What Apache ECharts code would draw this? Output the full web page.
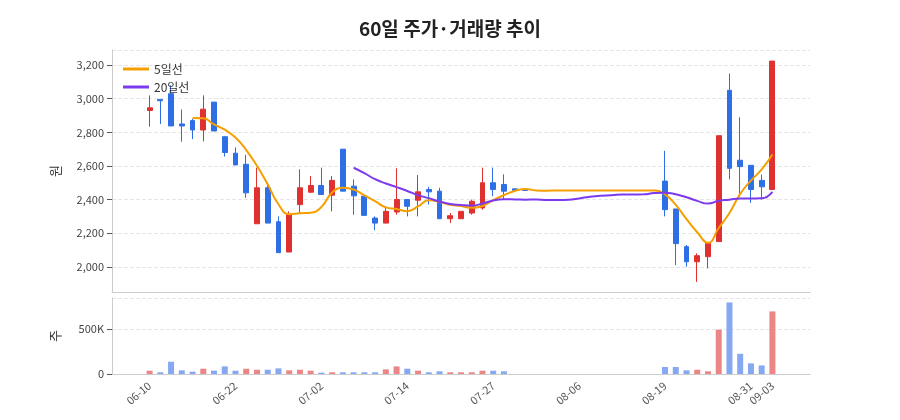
<!DOCTYPE html>
<html><head><meta charset="utf-8">
<script src="https://cdn.jsdelivr.net/npm/echarts@6/dist/echarts.min.js"></script>
<style>html,body{margin:0;padding:0;background:#fff}#c{width:900px;height:420px}</style>
</head><body><div id="c"></div>
<script>
const dates=['06-10','06-11','06-12','06-13','06-16','06-17','06-18','06-19','06-22','06-23','06-24','06-25','06-26','06-27','06-30','07-01','07-02','07-03','07-04','07-07','07-08','07-09','07-10','07-11','07-14','07-15','07-16','07-17','07-18','07-21','07-22','07-23','07-27','07-28','07-29','07-30','07-31','08-01','08-04','08-05','08-06','08-07','08-08','08-11','08-12','08-13','08-14','08-18','08-19','08-20','08-21','08-22','08-25','08-26','08-27','08-28','08-31','09-01','09-03'];
const opens=[2930,2996,3030,2850,2870,2814,2980,2774,2676,2610,2256,2470,2268,2088,2370,2444,2484,2426,2700,2480,2420,2290,2260,2326,2400,2396,2460,2450,2286,2286,2320,2350,2500,2490,2464,2458,2454,2454,2454,2454,2454,2454,2454,2454,2454,2454,2454,2454,2510,2344,2120,2030,2060,2150,3050,2634,2604,2514,2460];
const closes=[2946,2988,2838,2838,2814,2938,2808,2680,2606,2440,2470,2260,2084,2310,2470,2484,2430,2514,2450,2422,2306,2260,2330,2400,2360,2446,2446,2286,2304,2330,2390,2500,2460,2450,2454,2454,2454,2454,2454,2454,2454,2454,2454,2454,2454,2454,2454,2454,2340,2138,2030,2066,2140,2780,2586,2596,2460,2476,3224];
const lows=[2834,2850,2838,2744,2760,2746,2808,2656,2606,2410,2256,2260,2084,2088,2320,2440,2430,2330,2450,2310,2306,2218,2260,2310,2300,2300,2370,2286,2260,2286,2310,2340,2420,2400,2454,2454,2454,2454,2454,2454,2454,2454,2454,2454,2454,2454,2454,2454,2300,2010,2000,1910,1990,2150,2520,2420,2380,2400,2460];
const highs=[3020,2996,3080,2936,2880,3020,2980,2774,2710,2666,2590,2500,2300,2330,2580,2540,2590,2540,2700,2520,2420,2300,2360,2586,2400,2546,2476,2470,2320,2330,2400,2590,2590,2550,2464,2458,2454,2454,2454,2454,2454,2454,2454,2454,2454,2454,2454,2454,2690,2344,2130,2080,2140,2780,3150,2890,2604,2550,3224];
const volumes=[37000,19000,137000,41000,26000,59000,37000,85000,37000,59000,48000,48000,63000,41000,48000,37000,15000,19000,19000,19000,19000,19000,52000,85000,59000,37000,19000,30000,19000,19000,19000,37000,37000,30000,0,0,0,0,0,0,0,0,0,0,0,0,0,0,78000,78000,41000,48000,30000,496000,800000,226000,119000,96000,700000];
const volUp=[1,0,0,0,0,1,0,0,0,1,1,0,0,1,1,1,0,1,0,0,0,0,1,1,0,1,0,0,1,1,1,1,0,0,0,0,0,0,0,0,0,0,0,0,0,0,0,0,0,0,0,1,1,1,0,0,0,0,1];
const labelIdx=[0,8,16,24,32,40,48,56,58];

const PAD=3;
const n=dates.length;
function ma(k){const r=[];for(let i=0;i<n;i++){if(i<k-1){r.push('-');continue;}let s=0;for(let j=i-k+1;j<=i;j++)s+=closes[j];r.push(+(s/k).toFixed(1));}return r;}
const padArr=a=>[...Array(PAD).fill('-'),...a,...Array(PAD).fill('-')];
const cats=[...Array(PAD).fill(''),...dates,...Array(PAD).fill(' ')];
const kData=padArr(dates.map((d,i)=>[opens[i],closes[i],lows[i],highs[i]]));
const volData=padArr(volumes.map((v,i)=>({value:v,itemStyle:{color:volUp[i]?'#ec8585':'#86a8f3'}})));
const show=(i)=>labelIdx.includes(i-PAD);
const RED='#e03131',BLUE='#2f6fe6';
const chart=echarts.init(document.getElementById('c'));
const font='"Noto Sans CJK KR","Noto Sans",sans-serif';
chart.setOption({
  animation:false,
  textStyle:{fontFamily:font},
  title:{text:'60일 주가·거래량 추이',left:'center',top:14,textStyle:{fontSize:19,fontWeight:'bold',color:'#222',fontFamily:font}},
  legend:{left:118,top:58,orient:'vertical',itemGap:6,itemWidth:26,itemHeight:3,textStyle:{fontSize:12,color:'#333'},data:[{name:'5일선',icon:'rect'},{name:'20일선',icon:'rect'}]},
  grid:[{left:112,right:90,top:50,height:242},{left:112,right:90,top:298,height:76}],
  xAxis:[
    {type:'category',gridIndex:0,data:cats,boundaryGap:true,axisLine:{lineStyle:{color:'#ccc'}},axisTick:{alignWithLabel:true,interval:(i)=>show(i),lineStyle:{color:'#555'}},axisLabel:{show:false},splitLine:{show:false}},
    {type:'category',gridIndex:1,data:cats,boundaryGap:true,axisLine:{lineStyle:{color:'#ccc'}},axisTick:{alignWithLabel:true,interval:(i)=>show(i),lineStyle:{color:'#555'}},axisLabel:{interval:(i)=>show(i),rotate:40,color:'#555',fontSize:11,margin:10}}
  ],
  yAxis:[
    {type:'value',gridIndex:0,min:1850,max:3290,splitNumber:7,name:'원',nameLocation:'middle',nameGap:50,nameTextStyle:{fontSize:13,color:'#333'},axisLine:{show:true,lineStyle:{color:'#ccc'}},axisTick:{show:true,lineStyle:{color:'#555'}},axisLabel:{color:'#444',fontSize:11,showMinLabel:false,showMaxLabel:false,formatter:v=>v.toLocaleString('en-US')},splitLine:{lineStyle:{type:'dashed',color:'#e6e6e6'}}},
    {type:'value',gridIndex:1,min:0,max:850000,interval:500000,name:'주',nameLocation:'middle',nameGap:50,nameTextStyle:{fontSize:13,color:'#333'},axisLine:{show:true,lineStyle:{color:'#ccc'}},axisTick:{show:true,lineStyle:{color:'#555'}},axisLabel:{color:'#444',fontSize:11,showMaxLabel:false,formatter:v=>v===0?'0':(v/1000)+'K'},splitLine:{lineStyle:{type:'dashed',color:'#e6e6e6'}}}
  ],
  series:[
    {type:'candlestick',xAxisIndex:0,yAxisIndex:0,data:kData,barMaxWidth:7,itemStyle:{color:RED,color0:BLUE,borderColor:RED,borderColor0:BLUE,borderWidth:1}},
    {name:'5일선',type:'line',xAxisIndex:0,yAxisIndex:0,data:padArr(ma(5)),smooth:true,showSymbol:false,lineStyle:{width:2,color:'#f59f00'},itemStyle:{color:'#f59f00'}},
    {name:'20일선',type:'line',xAxisIndex:0,yAxisIndex:0,data:padArr(ma(20)),smooth:true,showSymbol:false,lineStyle:{width:2,color:'#7c3aed'},itemStyle:{color:'#7c3aed'}},
    {type:'bar',xAxisIndex:1,yAxisIndex:1,data:volData,barMaxWidth:6}
  ]
});
</script></body></html>
